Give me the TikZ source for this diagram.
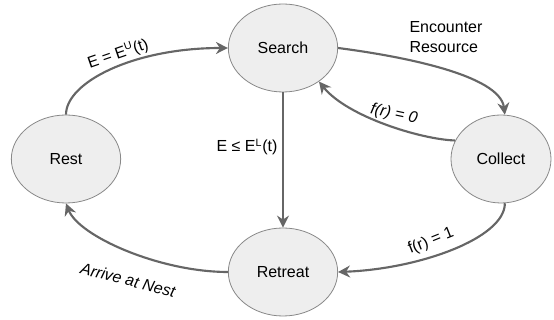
\documentclass[tikz,border=0pt]{standalone}
\usepackage{fontspec}
\setmainfont{Liberation Sans}
\usetikzlibrary{shapes.geometric,arrows.meta}
\definecolor{nodefill}{HTML}{EEEEEE}
\definecolor{nodeline}{HTML}{888888}
\definecolor{edgecol}{HTML}{666666}
\tikzset{
  state/.style={ellipse, draw=nodeline, fill=nodefill, line width=0.6pt,
    minimum width=82pt, minimum height=66pt, inner sep=0pt,
    font=\fontsize{12}{14}\selectfont},
  trans/.style={draw=edgecol, line width=1.6pt,
    -{Stealth[length=9pt,width=9pt,inset=3pt]}},
  lab/.style={font=\fontsize{12}{15}\selectfont, text=black, inner sep=0pt}
}
\begin{document}
\begin{tikzpicture}[x=0.75pt,y=0.75pt]
\useasboundingbox (0,0) rectangle (554,320);
\node[state] (search) at (283,272) {Search};
\node[state] (rest) at (66,161) {Rest};
\node[state, minimum width=75pt] (collect) at (501,161) {Collect};
\node[state] (retreat) at (283,48) {Retreat};

\draw[trans] (rest.north) .. controls +(0,32) and +(-95,0) .. (search.west);
\draw[trans] (search.east) .. controls +(62,-8) and +(-5,40) .. (collect.85);
\draw[trans] (collect.158) .. controls +(-34,1) and +(28,-35) .. (search.-43);
\draw[trans] (search.south) -- (retreat.north);
\draw[trans] (collect.-85) .. controls +(0,-35) and +(81,3) .. (retreat.east);
\draw[trans] (retreat.west) .. controls +(-68,0) and +(13,-33) .. (rest.south);

\node[lab, rotate=19] (l1) at (118,266) {E = E\textsuperscript{U}(t)};
\node[lab, align=left] (l2) at (446,283) {Encounter\\Resource};
\node[lab, rotate=-12] (l3) at (394,206) {\itshape f(r) = 0};
\node[lab] (l4) at (247,173) {E ≤ E\textsuperscript{L}(t)};
\node[lab, rotate=22] (l5) at (431,79) {f(r) = 1};
\node[lab, rotate=-14] (l6) at (128,40) {\itshape Arrive at Nest};
\end{tikzpicture}
\end{document}
